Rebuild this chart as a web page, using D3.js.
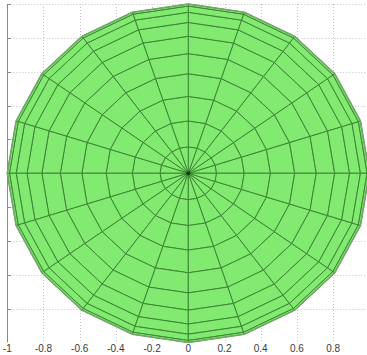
<!DOCTYPE html>
<html>
<head>
<meta charset="utf-8">
<script src="https://cdn.jsdelivr.net/npm/d3@7"></script>
<style>
  html, body { margin: 0; padding: 0; background: #fff; overflow: hidden; }
  svg { display: block; }
  text { font-family: "Liberation Sans", Arial, sans-serif; }
</style>
</head>
<body>
<svg id="chart" width="367" height="355"></svg>
<script>
// Top view of a unit sphere mesh: spokes (longitudes) and rings (latitudes)
const spokeAngles = [0, 18, 36, 54, 72, 90, 108, 126, 144, 162,
                     180, 198, 216, 234, 252, 270, 288, 306, 324, 342];
const ringRadii = [0, 0.156, 0.309, 0.454, 0.588, 0.707, 0.809, 0.891, 0.951, 0.988, 1.0];
const xTicks = [-1, -0.8, -0.6, -0.4, -0.2, 0, 0.2, 0.4, 0.6, 0.8];
const yTicks = [-0.8, -0.6, -0.4, -0.2, 0, 0.2, 0.4, 0.6, 0.8, 1];
const xTickLabels = ["-1", "-0.8", "-0.6", "-0.4", "-0.2", "0", "0.2", "0.4", "0.6", "0.8"];

const svg = d3.select("#chart");
const x = d3.scaleLinear().domain([-1, 1]).range([7.3, 369.3]);
const y = d3.scaleLinear().domain([-1, 1]).range([342.5, 4]);

// dotted grid
const grid = svg.append("g").attr("stroke", "#c4c4c4").attr("stroke-width", 1)
  .attr("stroke-dasharray", "1,2");
grid.selectAll("line.v").data(xTicks.filter(d => d > -1 && d < 1)).join("line")
  .attr("class", "v")
  .attr("x1", d => Math.round(x(d)) + 0.5).attr("x2", d => Math.round(x(d)) + 0.5)
  .attr("y1", y(1)).attr("y2", y(-1));
grid.selectAll("line.h").data(yTicks).join("line")
  .attr("class", "h")
  .attr("x1", x(-1)).attr("x2", 367)
  .attr("y1", d => Math.round(y(d)) + 0.5).attr("y2", d => Math.round(y(d)) + 0.5);

// left axis line with inward ticks
const axisG = svg.append("g").attr("stroke", "#8a8a8a").attr("stroke-width", 1);
axisG.append("line")
  .attr("x1", Math.round(x(-1)) + 0.5).attr("x2", Math.round(x(-1)) + 0.5)
  .attr("y1", y(1)).attr("y2", y(-1));
axisG.selectAll("line.t").data(yTicks).join("line")
  .attr("class", "t")
  .attr("x1", Math.round(x(-1))).attr("x2", Math.round(x(-1)) + 4)
  .attr("y1", d => Math.round(y(d)) + 0.5).attr("y2", d => Math.round(y(d)) + 0.5);

// mesh cells
const cells = [];
for (let i = 0; i < ringRadii.length - 1; i++) {
  for (let j = 0; j < spokeAngles.length; j++) {
    const a0 = spokeAngles[j] * Math.PI / 180;
    const a1 = spokeAngles[(j + 1) % spokeAngles.length] * Math.PI / 180;
    const r0 = ringRadii[i], r1 = ringRadii[i + 1];
    cells.push([
      [r0 * Math.cos(a0), r0 * Math.sin(a0)],
      [r1 * Math.cos(a0), r1 * Math.sin(a0)],
      [r1 * Math.cos(a1), r1 * Math.sin(a1)],
      [r0 * Math.cos(a1), r0 * Math.sin(a1)]
    ]);
  }
}
svg.append("g").selectAll("path").data(cells).join("path")
  .attr("d", c => "M" + c.map(p => [x(p[0]), y(p[1])].join(",")).join("L") + "Z")
  .attr("fill", "#82ea71")
  .attr("stroke", "#3b8632")
  .attr("stroke-width", 1)
  .attr("stroke-linejoin", "round");

// outer rim
const rim = spokeAngles.map(a => [x(Math.cos(a * Math.PI / 180)), y(Math.sin(a * Math.PI / 180))]);
svg.append("path")
  .attr("d", "M" + rim.map(p => p.join(",")).join("L") + "Z")
  .attr("fill", "none").attr("stroke", "#72a869").attr("stroke-width", 1.6);

// center point
svg.append("circle").attr("cx", x(0)).attr("cy", y(0)).attr("r", 2).attr("fill", "#143a10");

// x tick labels
svg.append("g").selectAll("text").data(xTicks).join("text")
  .attr("x", d => x(d)).attr("y", 352)
  .attr("text-anchor", "middle")
  .attr("font-size", 10)
  .attr("fill", "#3a3a3a")
  .text((d, i) => xTickLabels[i]);
</script>
</body>
</html>
